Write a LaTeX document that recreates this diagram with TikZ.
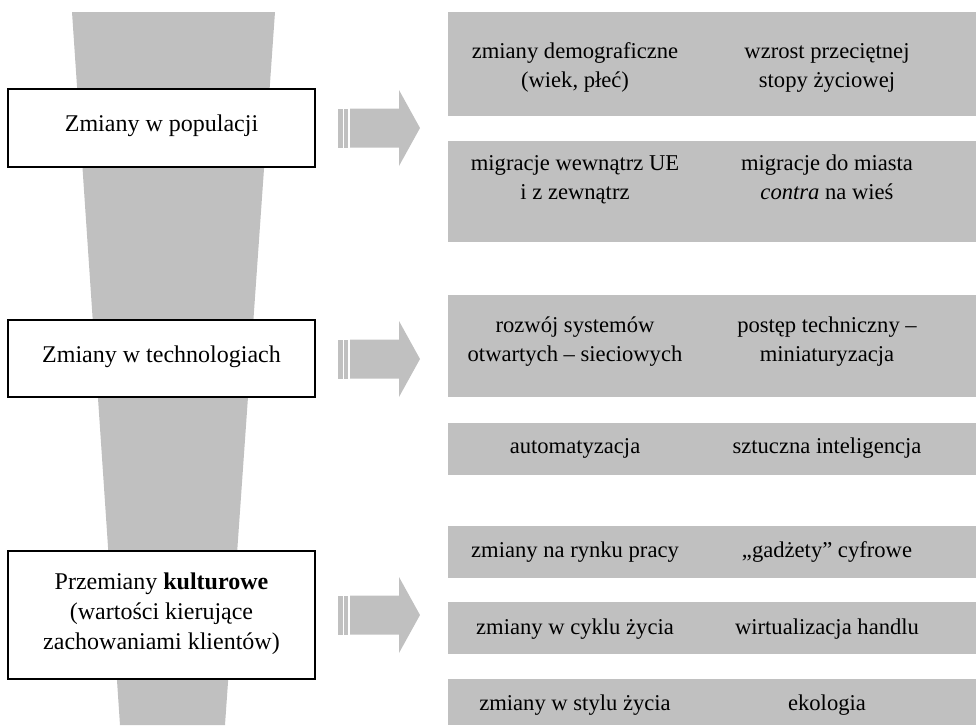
\documentclass[tikz,border=0pt]{standalone}
\usepackage{fontspec}
\setmainfont{Liberation Serif}
\definecolor{gr}{RGB}{192,192,192}
\tikzset{
  lbox/.style={draw=black, line width=1pt, fill=white, minimum width=153.5pt, inner sep=0pt},
  ltext/.style={align=center, inner sep=0pt, font=\fontsize{12}{15}\selectfont, execute at begin node=\strut, execute at end node=\strut},
  rtext/.style={align=center, inner sep=0pt, font=\fontsize{11.3}{14.5}\selectfont, execute at begin node=\strut, execute at end node=\strut},
  band/.style={fill=gr},
  pics/bigarrow/.style={code={
    \fill[gr] (0,-19.5) rectangle (4.5,19.5);
    \fill[gr] (6,-19.5) rectangle (10,19.5);
    \fill[gr] (12,-19.5) -- (61,-19.5) -- (61,-38) -- (82,0) -- (61,38) -- (61,19.5) -- (12,19.5) -- cycle;
  }}
}
\begin{document}
\begin{tikzpicture}[x=0.5pt,y=-0.5pt]
\useasboundingbox (0,0) rectangle (976,725);
% funnel
\fill[gr] (72,12) -- (275,12) -- (225,725) -- (120,725) -- cycle;
% left boxes
\node[lbox, minimum height=39pt] (b1) at (161.5,128) {};
\node[lbox, minimum height=38.5pt] (b2) at (161.5,358.5) {};
\node[lbox, minimum height=64pt] (b3) at (161.5,615) {};
\node[ltext] (l1) at (b1.center |- 0,125) {Zmiany w populacji};
\node[ltext] (l2) at (b2.center |- 0,356) {Zmiany w technologiach};
\node[ltext] (l3) at (b3.center |- 0,616) {Przemiany \textbf{kulturowe}\\(wartości kierujące\\zachowaniami klientów)};
% arrows
\pic at (338,128) {bigarrow};
\pic at (338,359) {bigarrow};
\pic at (338,615) {bigarrow};
% right bands
\fill[band] (448,12) rectangle (976,116);
\fill[band] (448,141) rectangle (976,242);
\fill[band] (448,295) rectangle (976,397);
\fill[band] (448,423) rectangle (976,475);
\fill[band] (448,526) rectangle (976,578);
\fill[band] (448,602) rectangle (976,654);
\fill[band] (448,679) rectangle (976,725);
% texts
\node[rtext] (t1a) at (575,69.7) {zmiany demograficzne\\(wiek, płeć)};
\node[rtext] (t1b) at (827,69.7) {wzrost przeciętnej\\stopy życiowej};
\node[rtext] (t2a) at (575,181.7) {migracje wewnątrz UE\\i z zewnątrz};
\node[rtext] (t2b) at (827,181.7) {migracje do miasta\\\textit{contra} na wieś};
\node[rtext] (t3a) at (575,343.7) {rozwój systemów\\otwartych – sieciowych};
\node[rtext] (t3b) at (827,343.7) {postęp techniczny –\\miniaturyzacja};
\node[rtext] (t4a) at (575,447.5) {automatyzacja};
\node[rtext] (t4b) at (827,447.5) {sztuczna inteligencja};
\node[rtext] (t5a) at (575,551.5) {zmiany na rynku pracy};
\node[rtext] (t5b) at (827,551.5) {„gadżety” cyfrowe};
\node[rtext] (t6a) at (575,628.5) {zmiany w cyklu życia};
\node[rtext] (t6b) at (827,628.5) {wirtualizacja handlu};
\node[rtext] (t7a) at (575,704.5) {zmiany w stylu życia};
\node[rtext] (t7b) at (827,704.5) {ekologia};
\end{tikzpicture}
\end{document}
